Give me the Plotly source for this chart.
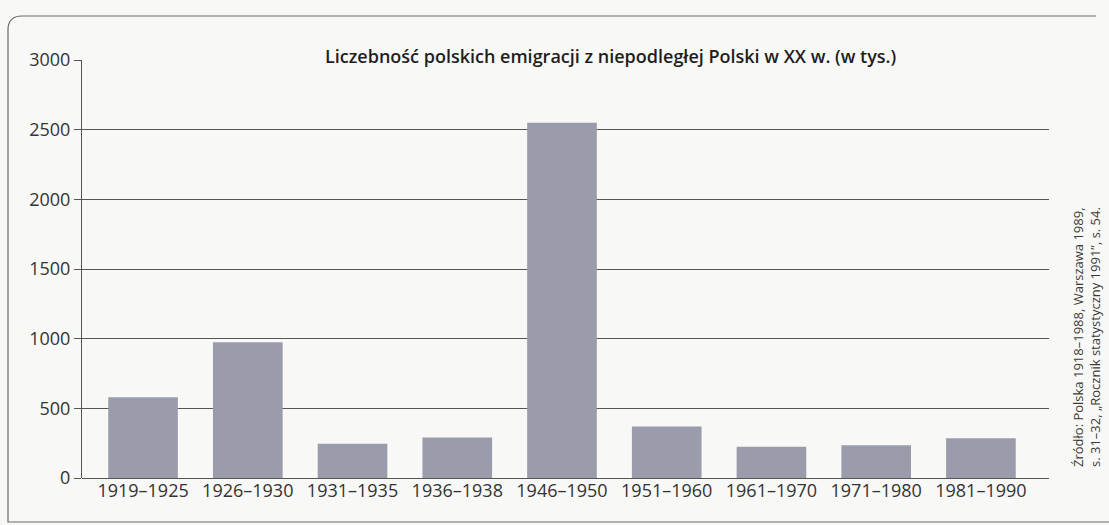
import plotly.graph_objects as go

periods = ["1919–1925", "1926–1930", "1931–1935", "1936–1938", "1946–1950",
           "1951–1960", "1961–1970", "1971–1980", "1981–1990"]
emigrants = [580, 975, 245, 290, 2550, 370, 225, 235, 285]
y_ticks = [0, 500, 1000, 1500, 2000, 2500, 3000]

title = "Liczebność polskich emigracji z niepodległej Polski w XX w. (w tys.)"
source = "Źródło: Polska 1918–1988, Warszawa 1989,<br>s. 31–32, „Rocznik statystyczny 1991”, s. 54."

W, H = 1109, 525
ML, MR, MT, MB = 82, 60, 60, 47
pw, ph = W - ML - MR, H - MT - MB


def px(x):
    return (x - ML) / pw


def py(y):
    return (H - MB - y) / ph


fig = go.Figure()
fig.add_trace(go.Bar(
    x=list(range(len(periods))), y=emigrants,
    width=0.665,
    marker=dict(color="#9a9cab", line=dict(width=0)),
    hoverinfo="y",
))

# outer frame with rounded top-left corner
r = 14
x0, x1, y0, y1 = 8, 1096, 16, 522
path = (f"M {px(x1)},{py(y0)} L {px(x0 + r)},{py(y0)} "
        f"Q {px(x0)},{py(y0)} {px(x0)},{py(y0 + r)} "
        f"L {px(x0)},{py(y1)} L {px(x1 + 13)},{py(y1)}")
fig.add_shape(type="path", path=path, xref="paper", yref="paper",
              line=dict(color="#6a6a6a", width=1.2), layer="below")

fig.add_annotation(text=title, xref="paper", yref="paper",
                   x=px(610), y=py(42), showarrow=False,
                   font=dict(family="Open Sans", size=18, color="#1e1e1e", weight=600))

fig.add_annotation(text=source, xref="paper", yref="paper",
                   x=px(1086), y=py(337), xanchor="center", yanchor="middle",
                   showarrow=False, textangle=-90, align="left",
                   font=dict(family="Open Sans", size=13, color="#3a3a3a"))

fig.update_layout(
    width=W, height=H,
    margin=dict(l=ML, r=MR, t=MT, b=MB),
    paper_bgcolor="#f8f8f6", plot_bgcolor="#f8f8f6",
    showlegend=False, bargap=0.3,
    font=dict(family="Open Sans", color="#333333"),
)
fig.update_xaxes(
    tickmode="array", tickvals=list(range(len(periods))), ticktext=periods,
    range=[-0.583, 8.65], showgrid=False, zeroline=False, showline=False,
    ticks="", tickfont=dict(size=18, color="#333333"), fixedrange=True,
)
fig.update_yaxes(
    range=[0, 3000], tickvals=y_ticks,
    showgrid=True, gridcolor="#555555", gridwidth=1,
    showline=True, linecolor="#555555", linewidth=1,
    ticks="outside", ticklen=7, tickcolor="#555555",
    zeroline=True, zerolinecolor="#555555", zerolinewidth=1,
    tickfont=dict(size=18, color="#333333"), fixedrange=True,
)

fig.write_html("out.html", config={"displayModeBar": False},
               post_script="document.body.style.margin='0';")
